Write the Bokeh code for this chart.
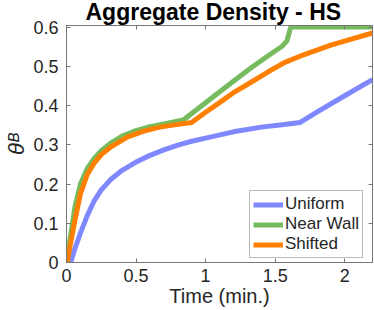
from bokeh.plotting import figure
from bokeh.models import Range1d, FixedTicker, LinearAxis, Legend, LegendItem
from bokeh.embed import file_html
from bokeh.resources import INLINE

# ---- data ----
uniform_t = [0.03, 0.06, 0.10, 0.15, 0.20, 0.25, 0.32, 0.40, 0.50, 0.60, 0.70, 0.80, 0.90, 1.00, 1.20, 1.40, 1.55, 1.68, 1.80, 2.00, 2.20]
uniform_v = [0.0, 0.035, 0.075, 0.12, 0.158, 0.185, 0.212, 0.235, 0.256, 0.273, 0.287, 0.299, 0.309, 0.317, 0.333, 0.345, 0.351, 0.357, 0.383, 0.425, 0.466]

nearwall_t = [0.0, 0.03, 0.06, 0.10, 0.15, 0.20, 0.25, 0.32, 0.40, 0.50, 0.60, 0.70, 0.84, 1.00, 1.09, 1.20, 1.33, 1.45, 1.55, 1.585, 1.612, 2.20]
nearwall_v = [0.0, 0.07, 0.14, 0.20, 0.240, 0.266, 0.285, 0.305, 0.322, 0.336, 0.346, 0.353, 0.363, 0.407, 0.432, 0.462, 0.497, 0.527, 0.551, 0.565, 0.600, 0.600]

shifted_t = [0.005, 0.03, 0.065, 0.10, 0.15, 0.20, 0.25, 0.32, 0.44, 0.55, 0.67, 0.80, 0.90, 1.00, 1.09, 1.21, 1.33, 1.45, 1.57, 1.71, 1.90, 2.20]
shifted_v = [0.0, 0.05, 0.115, 0.175, 0.225, 0.254, 0.275, 0.295, 0.320, 0.334, 0.345, 0.352, 0.357, 0.383, 0.405, 0.435, 0.460, 0.486, 0.510, 0.530, 0.554, 0.585]

series_names = ["Uniform", "Near Wall", "Shifted"]
series_colors = ["#7f88ff", "#77bb5f", "#ff7f00"]

x_ticks = [0, 0.5, 1, 1.5, 2]
x_tick_labels = ["0", "0.5", "1", "1.5", "2"]
y_ticks = [0, 0.1, 0.2, 0.3, 0.4, 0.5, 0.6]
y_tick_labels = ["0", "0.1", "0.2", "0.3", "0.4", "0.5", "0.6"]

title_text = "Aggregate Density - HS"
x_label = "Time (min.)"
y_label = "θᴮ"

FONT = "Liberation Sans"
TXT = "#262626"
AX = "#767676"

p = figure(width=374, height=310, output_backend="svg", toolbar_location=None,
           x_range=Range1d(0, 2.2), y_range=Range1d(0, 0.604),
           min_border=0, min_border_left=66, min_border_right=2,
           min_border_top=0, min_border_bottom=48,
           background_fill_color="white", border_fill_color="white")
p.grid.visible = False
p.outline_line_color = AX
p.outline_line_width = 1

p.title.text = title_text
p.title.text_font = FONT
p.title.text_font_style = "bold"
p.title.text_font_size = "23px"
p.title.text_color = "black"
p.title.align = "left"
p.title.offset = 19
p.title.standoff = -3
p.title.vertical_align = "top"
p.title.text_baseline = "top"


def style_axis(ax, ticks, labels, show_labels=True):
    ax.ticker = FixedTicker(ticks=ticks)
    ax.major_tick_in = 4
    ax.major_tick_out = 0
    ax.minor_tick_line_color = None
    ax.axis_line_color = AX
    ax.major_tick_line_color = AX
    ax.major_label_text_font = FONT
    ax.major_label_text_color = TXT
    if show_labels:
        ax.major_label_overrides = {t: l for t, l in zip(ticks, labels)}
        ax.major_label_text_font_size = "18px"
        ax.major_label_standoff = 6
    else:
        ax.major_label_overrides = {t: "" for t in ticks}
        ax.major_label_text_font_size = "1px"
        ax.major_label_standoff = 0


style_axis(p.xaxis[0], x_ticks, x_tick_labels)
style_axis(p.yaxis[0], y_ticks, y_tick_labels)
p.yaxis[0].major_label_standoff = 8

p.xaxis[0].axis_label = x_label
p.xaxis[0].axis_label_text_font = FONT
p.xaxis[0].axis_label_text_font_style = "normal"
p.xaxis[0].axis_label_text_font_size = "20px"
p.xaxis[0].axis_label_text_color = TXT
p.xaxis[0].axis_label_standoff = 0

p.yaxis[0].axis_label = y_label
p.yaxis[0].axis_label_text_font = FONT
p.yaxis[0].axis_label_text_font_style = "italic"
p.yaxis[0].axis_label_text_font_size = "22px"
p.yaxis[0].axis_label_text_color = TXT
p.yaxis[0].axis_label_standoff = 1

top_ax = LinearAxis()
style_axis(top_ax, x_ticks, x_tick_labels, show_labels=False)
p.add_layout(top_ax, "above")
right_ax = LinearAxis()
style_axis(right_ax, y_ticks, y_tick_labels, show_labels=False)
p.add_layout(right_ax, "right")

r1 = p.line(uniform_t, uniform_v, line_color=series_colors[0], line_width=5)
r2 = p.line(nearwall_t, nearwall_v, line_color=series_colors[1], line_width=5)
r3 = p.line(shifted_t, shifted_v, line_color=series_colors[2], line_width=5)

legend = Legend(items=[LegendItem(label=series_names[0], renderers=[r1]),
                       LegendItem(label=series_names[1], renderers=[r2]),
                       LegendItem(label=series_names[2], renderers=[r3])],
                location=(183, 4))
legend.label_text_font = FONT
legend.label_text_font_size = "17px"
legend.label_text_color = TXT
legend.glyph_width = 30
legend.glyph_height = 17
legend.label_height = 17
legend.spacing = 0
legend.padding = 3
legend.margin = 0
legend.label_standoff = 2
legend.border_line_color = AX
legend.border_line_width = 1
legend.background_fill_color = "white"
legend.background_fill_alpha = 1
p.add_layout(legend, "center")

open("out.html", "w").write(file_html(p, INLINE))
